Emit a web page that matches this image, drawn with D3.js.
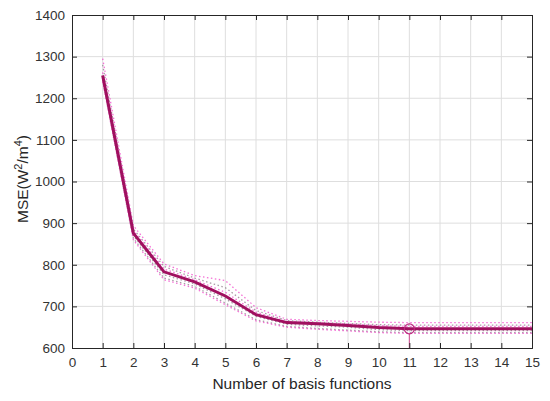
<!doctype html>
<html>
<head>
<script src="https://cdn.jsdelivr.net/npm/d3@7"></script>
<style>
  body { margin: 0; background: #fff; }
  text { font-family: "Liberation Sans", Arial, sans-serif; }
</style>
</head>
<body>
<svg width="550" height="401" id="chart"></svg>
<script>
// number of basis functions
var nBasis = [1, 2, 3, 4, 5, 6, 7, 8, 9, 10, 11, 12, 13, 14, 15];
// mean MSE
var mse = [1255, 876, 783, 759, 725, 680, 661, 658, 654, 649, 646, 646, 646, 646, 646];
// individual runs (dotted)
var runPinkHi = [1295, 894, 802, 774, 762, 697, 669, 666, 664, 662, 661, 661, 661, 661, 661];
var runPinkMid = [1262, 882, 790, 764, 734, 686, 664, 661, 658, 654, 652, 652, 652, 652, 652];
var runPinkLo = [1240, 860, 764, 744, 704, 665, 650, 645, 641, 637, 635, 635, 635, 635, 635];
var runGrayHi = [1280, 886, 796, 768, 745, 690, 666, 662, 659, 656, 655, 655, 655, 655, 655];
var runGrayMid = [1250, 870, 776, 754, 718, 676, 657, 653, 650, 644, 642, 642, 642, 642, 642];
var runGrayLo = [1244, 864, 768, 748, 708, 668, 652, 647, 643, 639, 637, 637, 637, 637, 637];
var xTicks = d3.range(0, 16);
var yTicks = [600, 700, 800, 900, 1000, 1100, 1200, 1300, 1400];
var bestN = 11;

var svg = d3.select("#chart"),
    pLeft = 72, pRight = 532, pTop = 15, pBottom = 348;

var x = d3.scaleLinear().domain([0, 15]).range([pLeft, pRight]);
var y = d3.scaleLinear().domain([600, 1400]).range([pBottom, pTop]);

// grid
svg.append("g").selectAll("line").data(xTicks.slice(1, -1)).enter().append("line")
   .attr("x1", function(d) { return x(d); }).attr("x2", function(d) { return x(d); })
   .attr("y1", pTop).attr("y2", pBottom)
   .attr("stroke", "#dedede").attr("stroke-width", 1);
svg.append("g").selectAll("line").data(yTicks.slice(1, -1)).enter().append("line")
   .attr("y1", function(d) { return y(d); }).attr("y2", function(d) { return y(d); })
   .attr("x1", pLeft).attr("x2", pRight)
   .attr("stroke", "#dedede").attr("stroke-width", 1);

var line = d3.line()
    .x(function(d, i) { return x(nBasis[i]); })
    .y(function(d) { return y(d); });

// individual runs
[[runGrayHi, "#8c7a88"], [runGrayMid, "#8c7a88"], [runGrayLo, "#8c7a88"],
 [runPinkHi, "#f040c8"], [runPinkMid, "#f040c8"], [runPinkLo, "#f040c8"]]
  .forEach(function(r) {
    svg.append("path").datum(r[0])
       .attr("d", line).attr("fill", "none")
       .attr("stroke", r[1]).attr("stroke-width", 1.3)
       .attr("stroke-dasharray", "1.5,2.5").attr("opacity", 0.75);
  });

// mean line
svg.append("path").datum(mse)
   .attr("d", line).attr("fill", "none")
   .attr("stroke", "#a0105f").attr("stroke-width", 3);

// best marker
svg.append("line")
   .attr("x1", x(bestN)).attr("x2", x(bestN))
   .attr("y1", y(mse[bestN - 1]) + 5).attr("y2", pBottom)
   .attr("stroke", "#d04890").attr("stroke-width", 1);
svg.append("circle")
   .attr("cx", x(bestN)).attr("cy", y(mse[bestN - 1])).attr("r", 5)
   .attr("fill", "none").attr("stroke", "#c02880").attr("stroke-width", 1.2);

// axes
var xAxis = svg.append("g").attr("transform", "translate(0," + pBottom + ")")
   .call(d3.axisBottom(x).tickValues(xTicks).tickSize(-5).tickPadding(9));
var yAxis = svg.append("g").attr("transform", "translate(" + pLeft + ",0)")
   .call(d3.axisLeft(y).tickValues(yTicks).tickSize(-5).tickPadding(7).tickFormat(d3.format("d")));
var xTop = svg.append("g").attr("transform", "translate(0," + pTop + ")")
   .call(d3.axisTop(x).tickValues(xTicks).tickSize(-5).tickFormat(""));
var yRight = svg.append("g").attr("transform", "translate(" + pRight + ",0)")
   .call(d3.axisRight(y).tickValues(yTicks).tickSize(-5).tickFormat(""));

[xAxis, yAxis, xTop, yRight].forEach(function(a) {
  a.select(".domain").attr("stroke", "#262626");
  a.selectAll(".tick line").attr("stroke", "#262626");
  a.selectAll("text").attr("fill", "#333").style("font-size", "13.5px")
   .style("font-family", "'Liberation Sans', Arial, sans-serif");
});

svg.append("text")
   .attr("x", (pLeft + pRight) / 2).attr("y", 389)
   .attr("text-anchor", "middle").attr("fill", "#262626")
   .style("font-size", "15.5px")
   .text("Number of basis functions");

var yl = svg.append("text")
   .attr("transform", "translate(28," + 179 + ") rotate(-90)")
   .attr("text-anchor", "middle").attr("fill", "#262626")
   .style("font-size", "15.5px");
yl.append("tspan").text("MSE(W");
yl.append("tspan").attr("dy", -6).style("font-size", "11px").text("2");
yl.append("tspan").attr("dy", 6).text("/m");
yl.append("tspan").attr("dy", -6).style("font-size", "11px").text("4");
yl.append("tspan").attr("dy", 6).text(")");
</script>
</body>
</html>
